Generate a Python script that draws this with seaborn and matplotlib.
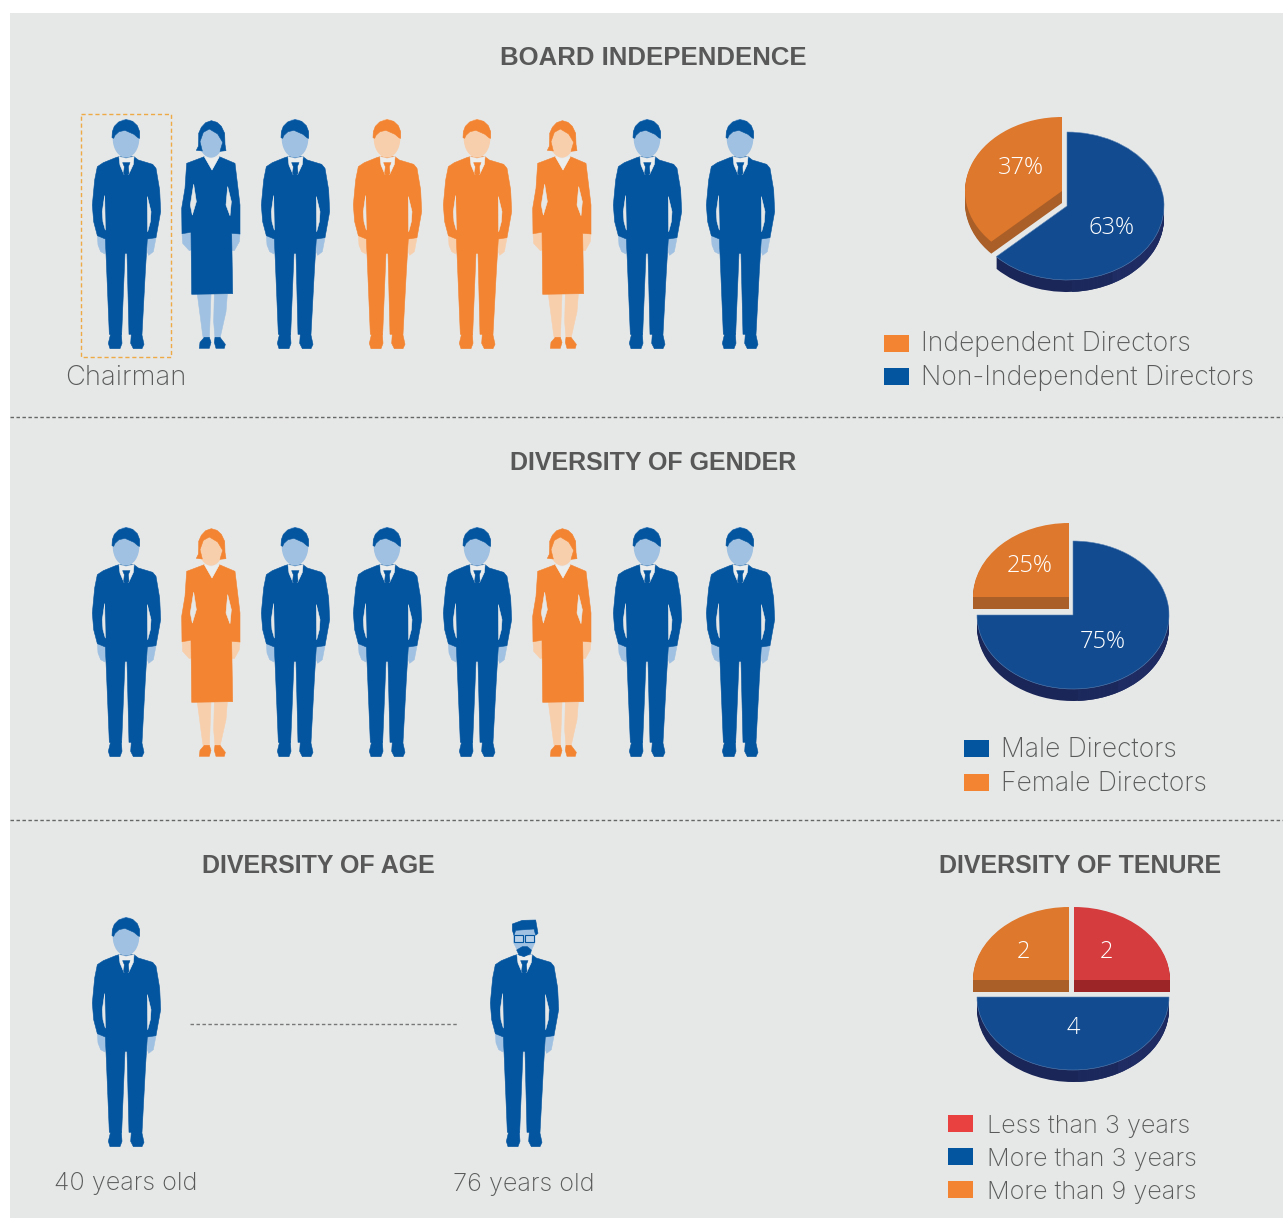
import numpy as np
import seaborn as sns
import matplotlib.pyplot as plt
from matplotlib.patches import Polygon, Ellipse, Rectangle, Wedge

sns.set_theme(style='white')
plt.rcParams['font.family'] = ['Inter', 'DejaVu Sans']

W, H = 1283, 1220

# data
board_sex = ['M', 'F', 'M', 'M', 'M', 'F', 'M', 'M']
board_kind = ['non', 'non', 'non', 'ind', 'ind', 'ind', 'non', 'non']
gender_sex = ['M', 'F', 'M', 'M', 'M', 'F', 'M', 'M']
person_x = [126, 211, 295, 387, 477, 562, 647, 740]

independence_vals = [63, 37]
independence_names = ['Non-Independent Directors', 'Independent Directors']
gender_vals = [75, 25]
gender_names = ['Male Directors', 'Female Directors']
tenure_vals = [2, 4, 2]
tenure_names = ['Less than 3 years', 'More than 3 years', 'More than 9 years']
age_low, age_high = 40, 76

BG = '#e6e8e8'
TXT = '#5a5a5a'
BLUE = '#04559f'
BLUE_SKIN = '#a0c1e1'
ORANGE = '#f38431'
ORANGE_SKIN = '#f8cfac'
RED = '#e8413f'
TOP = {'blue': '#124b8f', 'orange': '#de782c', 'red': '#d53c3d'}
SIDE = {'blue': '#1a2558', 'orange': '#ab5f28', 'red': '#9c2528'}

# figure shapes, in px*3 around a reference point
M_BODY = [(147, 155), (137, 158), (100, 173), (82, 185), (74, 225), (67, 300), (71, 350), (82, 392), (106, 402),
          (109, 470), (118, 688), (155, 688), (165, 445), (171, 445), (177, 688), (216, 688), (226, 500), (232, 402),
          (258, 398), (272, 320), (269, 255), (258, 190), (248, 178), (205, 165), (192, 155)]
M_GAPS = [[(104, 272), (97, 320), (99, 350), (106, 375)], [(232, 275), (243, 320), (241, 350), (233, 380)]]
M_HANDS = [[(82, 388), (84, 420), (92, 440), (105, 447), (107, 430), (106, 398)],
           [(232, 398), (232, 440), (236, 451), (250, 440), (258, 398)]]
M_SHOES = [[(122, 686), (115, 715), (120, 731), (150, 731), (156, 715), (154, 686)],
           [(184, 686), (182, 715), (190, 731), (216, 731), (222, 718), (215, 686)]]
M_COLLAR = [(147, 155), (168, 160), (192, 155), (190, 178), (176, 208), (162, 208), (150, 180)]
M_TIE = [(158, 173), (180, 173), (175, 185), (177, 205), (168, 216), (161, 205), (163, 185)]
M_HAIR = [(126, 98), (127, 80), (133, 64), (146, 51), (168, 44), (188, 49), (202, 62), (209, 80), (209, 100),
          (205, 99), (192, 88), (165, 76), (147, 80), (135, 91), (131, 100)]

F_BODY = [(405, 155), (352, 175), (347, 250), (337, 310), (338, 386), (365, 382), (367, 568), (490, 566), (487, 385),
          (512, 387), (512, 300), (497, 175), (450, 155), (428, 195)]
F_GAPS = [[(373, 238), (381, 290), (369, 330), (363, 300)], [(475, 245), (470, 300), (482, 332), (486, 290)]]
F_HANDS = [[(338, 385), (340, 415), (360, 437), (372, 432), (366, 385)],
           [(485, 385), (478, 435), (495, 437), (510, 410), (512, 386)]]
F_LEGS = [[(384, 568), (400, 690), (403, 705), (420, 705), (422, 650), (425, 568)],
          [(435, 568), (433, 650), (437, 700), (452, 700), (470, 620), (474, 568)]]
F_SHOES = [[(405, 697), (392, 712), (390, 730), (420, 730), (425, 712), (420, 697)],
           [(435, 712), (437, 697), (452, 697), (468, 718), (465, 730), (440, 730)]]
F_COLLAR = [(405, 155), (425, 161), (450, 155), (428, 195)]
F_HAIR = [(388, 105), (388, 85), (396, 67), (409, 53), (426, 47), (443, 52), (456, 64), (466, 85), (467, 118),
          (470, 137), (452, 139), (460, 112), (445, 87), (420, 72), (402, 82), (392, 110), (399, 138), (381, 136),
          (387, 124)]

OLD_HAIR = [(133, 63), (163, 52), (203, 51), (210, 91), (203, 97), (198, 78), (143, 82), (138, 97), (133, 82)]
OLD_FACE = [(136, 78), (200, 78), (201, 118), (190, 142), (170, 152), (148, 142), (136, 118)]
OLD_BEARD = [(146, 141), (163, 131), (178, 131), (190, 141), (188, 151), (168, 161), (153, 156)]

fig = plt.figure(figsize=(W / 100, H / 100), dpi=100, facecolor='white')
ax = fig.add_axes([0, 0, 1, 1])
ax.set_xlim(0, W)
ax.set_ylim(H, 0)
ax.axis('off')

# text sits above the pie axes
tx = fig.add_axes([0, 0, 1, 1], zorder=10)
tx.set_xlim(0, W)
tx.set_ylim(H, 0)
tx.axis('off')

ax.add_patch(Rectangle((10, 13), W - 10, 1205, fc=BG, lw=0, zorder=0))


def poly(pts, x0, y0, cx, color, z=3):
    arr = np.array(pts, dtype=float)
    px = x0 + (arr[:, 0] - cx) / 3
    py = y0 + arr[:, 1] / 3
    ax.add_patch(Polygon(np.c_[px, py], closed=True, fc=color, ec=color, lw=0.4, joinstyle='round', zorder=z))


def man(x, y0, color, skin, old=False):
    cx = 168
    for p in M_HANDS:
        poly(p, x, y0, cx, skin, 2)
    for p in M_SHOES:
        poly(p, x, y0, cx, color, 2)
    poly(M_BODY, x, y0, cx, color)
    for p in M_GAPS:
        poly(p, x, y0, cx, BG, 4)
    poly(M_COLLAR, x, y0, cx, '#eceeee', 4)
    poly(M_TIE, x, y0, cx, color, 5)
    if old:
        poly(OLD_FACE, x, y0, cx, skin, 5)
        poly(OLD_BEARD, x, y0, cx, color, 6)
        poly(OLD_HAIR, x, y0, cx, color, 6)
        for left in (x - 10, x + 1):
            ax.add_patch(Rectangle((left, y0 + 32), 9, 6.5, fc='#b8d0e8', ec=color, lw=0.8, zorder=6))
    else:
        ax.add_patch(Ellipse((x, y0 + 100 / 3), 80 / 3, 116 / 3, fc=skin, lw=0, zorder=5))
        poly(M_HAIR, x, y0, cx, color, 6)


def woman(x, y0, color, skin):
    cx = 425
    for p in F_LEGS + F_HANDS:
        poly(p, x, y0, cx, skin, 2)
    for p in F_SHOES:
        poly(p, x, y0, cx, color, 3)
    poly(F_BODY, x, y0, cx, color)
    for p in F_GAPS:
        poly(p, x, y0, cx, BG, 4)
    poly(F_COLLAR, x, y0, cx, '#eceeee', 4)
    ax.add_patch(Ellipse((x, y0 + 105 / 3), 74 / 3, 106 / 3, fc=skin, lw=0, zorder=5))
    poly(F_HAIR, x, y0, cx, color, 6)


def pie(values, colors, offsets, cx, cy, rx=97, ry=74, depth=12):
    # stretched pie: an ax.pie drawn in an axes that is wider than tall, walls are stacked copies
    lim = 1.5
    pa = fig.add_axes([(cx - lim * rx) / W, 1 - (cy + lim * ry) / H, 2 * lim * rx / W, 2 * lim * ry / H])
    pa.patch.set_alpha(0)
    for stage in ('side', 'top'):
        for i, key in enumerate(colors):
            dx, dy = offsets[i]
            shown = ['none'] * len(values)
            layers = range(depth, 0, -1) if stage == 'side' else [0]
            for k in layers:
                c0 = (dx / rx, -(dy + k) / ry)
                shown[i] = SIDE[key] if stage == 'side' else TOP[key]
                wedges, _ = pa.pie(values, colors=shown, startangle=90, counterclock=False, center=c0,
                                   wedgeprops={'linewidth': 0})
                if stage == 'side' and key == 'blue':
                    pa.add_patch(Wedge(c0, 1, -87, -62, fc='#1c2a5e', lw=0, zorder=1))
                    pa.add_patch(Wedge(c0, 1, -62, 0, fc='#212f67', lw=0, zorder=1))
                if stage == 'top' and key == 'blue':
                    wedges[i].set_edgecolor('#5b84b5')
                    wedges[i].set_linewidth(0.4)
    pa.set_aspect('auto')
    pa.set_xlim(-lim, lim)
    pa.set_ylim(-lim, lim)
    pa.axis('off')
    return pa


def title(s, x, y, size=18):
    tx.text(x, y + 1, s, ha='center', va='center', fontsize=size, fontweight='bold', color='#585858',
            family=['Liberation Sans', 'DejaVu Sans'])


def label(s, x, base, ha='left', size=19.1):
    tx.text(x, base, s, ha=ha, va='baseline', fontsize=size, color=TXT, fontweight='light')


def pct(s, x, y):
    tx.text(x, y + 1, s, color='white', ha='center', va='center', fontsize=17, family=['Open Sans', 'DejaVu Sans'],
            fontweight='light')


def swatch(x, y, color):
    ax.add_patch(Rectangle((x, y - 8.5), 25, 17, fc=color, lw=0, zorder=3))


# section 1
title('BOARD INDEPENDENCE', 653, 57, size=18.5)
for x, sex, kind in zip(person_x, board_sex, board_kind):
    col, skin = (ORANGE, ORANGE_SKIN) if kind == 'ind' else (BLUE, BLUE_SKIN)
    (man if sex == 'M' else woman)(x, 105, col, skin)
ax.add_patch(Rectangle((81, 113.5), 89.5, 243, fc='none', ec='#eeaa44', lw=1, ls=(0, (3, 2)), zorder=7))
label('Chairman', 126, 385, ha='center', size=19.8)

pie(independence_vals, ['blue', 'orange'], [(0, 0), (-5, -15)], 1067, 206)
pct(f'{independence_vals[1]}%', 1021, 167)
pct(f'{independence_vals[0]}%', 1111, 227)
swatch(884, 343, ORANGE)
label(independence_names[1], 921, 351)
swatch(884, 376, BLUE)
label(independence_names[0], 921, 385)

ax.plot([10, W], [417, 417], color='#666666', lw=1, ls=(0, (2.5, 1.8)), zorder=2)

# section 2
title('DIVERSITY OF GENDER', 653, 462)
for x, sex in zip(person_x, gender_sex):
    if sex == 'M':
        man(x, 513, BLUE, BLUE_SKIN)
    else:
        woman(x, 513, ORANGE, ORANGE_SKIN)

pie(gender_vals, ['blue', 'orange'], [(0, 0), (-4, -18)], 1073, 615, rx=96)
pct(f'{gender_vals[1]}%', 1030, 565)
pct(f'{gender_vals[0]}%', 1103, 641)
swatch(964, 748, BLUE)
label(gender_names[0], 1001, 757)
swatch(964, 782, ORANGE)
label(gender_names[1], 1001, 791)

ax.plot([10, W], [820, 820], color='#666666', lw=1, ls=(0, (2.5, 1.8)), zorder=2)

# section 3
title('DIVERSITY OF AGE', 318, 865)
title('DIVERSITY OF TENURE', 1080, 865)
man(126, 903, BLUE, BLUE_SKIN)
man(524, 903, BLUE, BLUE_SKIN, old=True)
ax.plot([190, 458], [1024, 1024], color='#777777', lw=1, ls=(0, (2.5, 1.8)), zorder=2)
label(f'{age_low} years old', 126, 1190, ha='center', size=18.2)
label(f'{age_high} years old', 524, 1191, ha='center', size=18.2)

pie(tenure_vals, ['red', 'blue', 'orange'], [(1, -17), (0, 0), (-4, -17)], 1073, 997, rx=96, ry=73)
pct(str(tenure_vals[2]), 1023, 951)
pct(str(tenure_vals[0]), 1106, 951)
pct(str(tenure_vals[1]), 1073, 1027)
swatch(948, 1123, RED)
label(tenure_names[0], 987, 1133, size=18.2)
swatch(948, 1156, BLUE)
label(tenure_names[1], 987, 1166, size=18.2)
swatch(948, 1189, ORANGE)
label(tenure_names[2], 987, 1199, size=18.2)

fig.savefig('out.png', dpi=100)
